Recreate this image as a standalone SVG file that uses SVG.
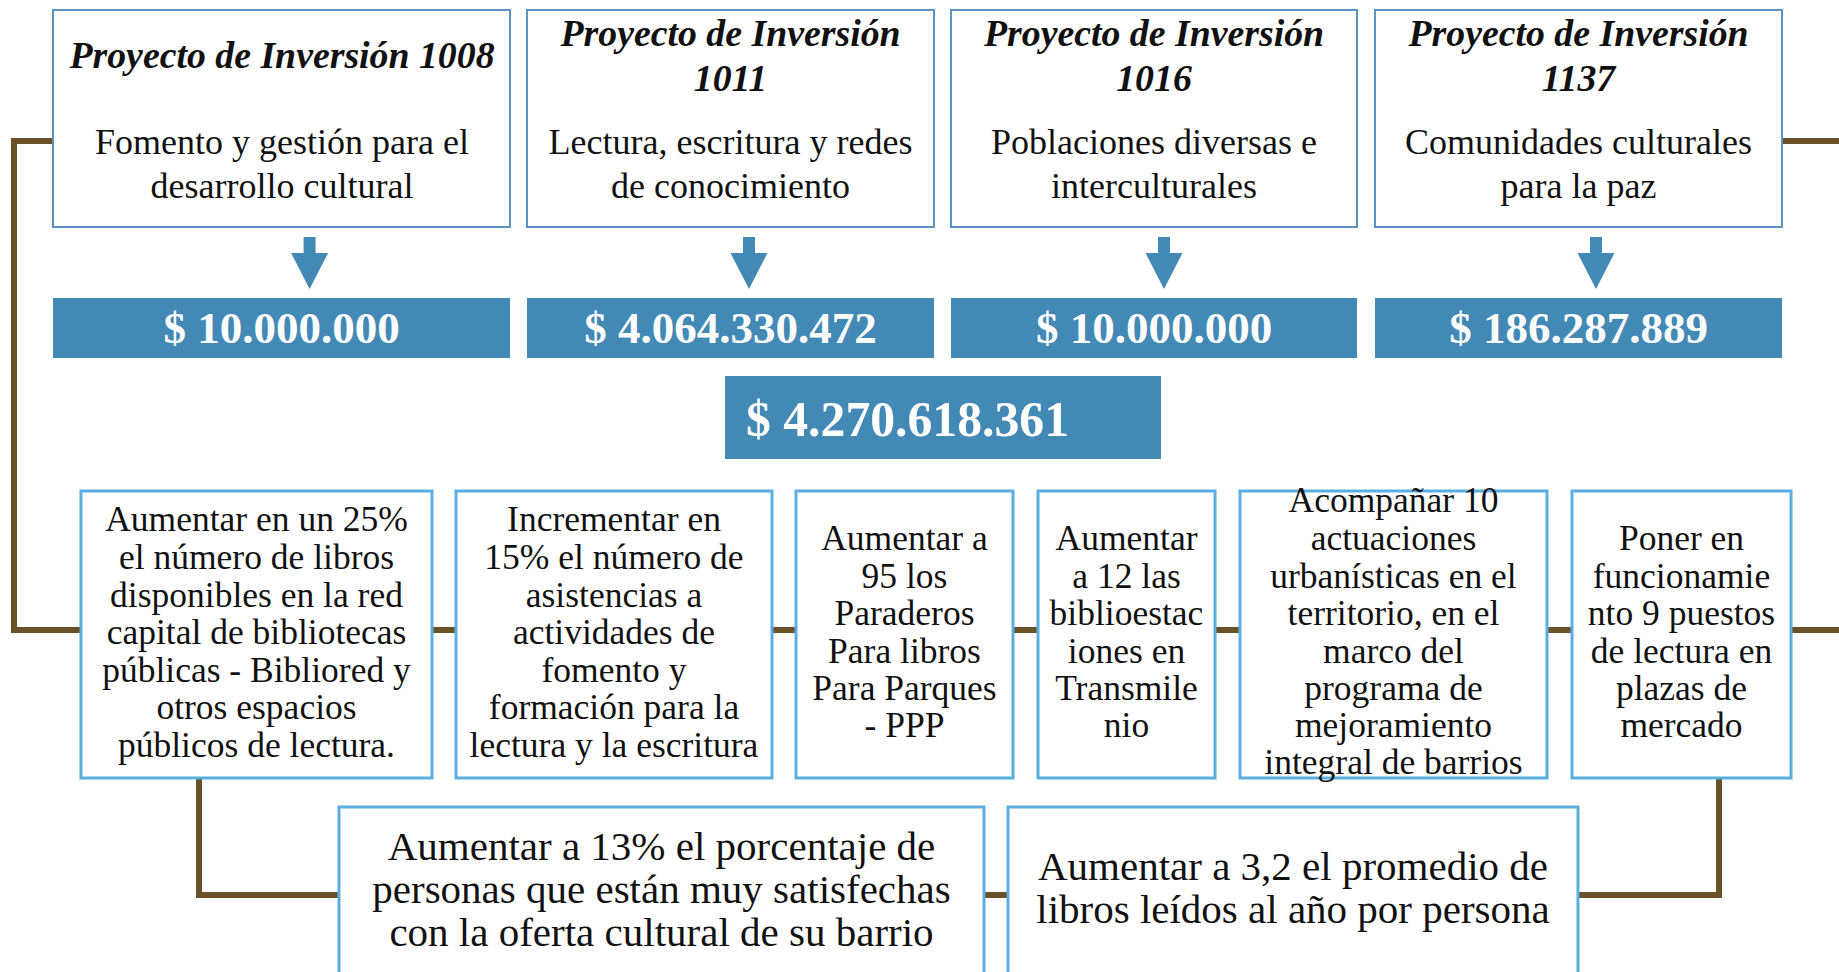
<svg xmlns="http://www.w3.org/2000/svg" xmlns:xlink="http://www.w3.org/1999/xlink" width="1839" height="972" viewBox="0 0 1839 972">
<style>
.proj{fill:#fff;stroke:#5A94C2;stroke-width:2}
.val{fill:#4389B5}
.goal{fill:#fff;stroke:#5AAEE0;stroke-width:3}
.conn{fill:none;stroke:#6B5128;stroke-width:6}
.t{font-family:"Liberation Serif","Times New Roman",serif;fill:#111;text-anchor:middle}
.ti{font-style:italic;font-weight:bold;font-size:37.8px}
.tb{font-size:36px}
.tv{font-family:"Liberation Serif","Times New Roman",serif;fill:#fff;font-weight:bold;font-size:45px;text-anchor:middle}
.tg{font-size:35.5px}
.tc{font-size:41px}
.arrow{fill:#4389B5}
</style>
<defs>
<path id="arr" d="M-6,237 H6 V253 H18.5 L0,289 L-18.5,253 H-6 Z"/>
</defs>
<rect width="1839" height="972" fill="#fff"/>
<g id="connectors">
<path class="conn" d="M53,141 H14 V630 H1845"/>
<path class="conn" d="M1782,141 H1845 V630"/>
<path class="conn" d="M199,778 V895 H1719 V778"/>
</g>
<g id="p1008">
<rect class="proj" x="53" y="10" width="457" height="217"/>
<text class="t ti" x="282" y="68">Proyecto de Inversión 1008</text>
<text class="t tb" x="282" y="154">Fomento y gestión para el</text>
<text class="t tb" x="282" y="198">desarrollo cultural</text>
</g>
<g id="p1011">
<rect class="proj" x="527" y="10" width="407" height="217"/>
<text class="t ti" x="730.5" y="46">Proyecto de Inversión</text>
<text class="t ti" x="730.5" y="91">1011</text>
<text class="t tb" x="730.5" y="154">Lectura, escritura y redes</text>
<text class="t tb" x="730.5" y="198">de conocimiento</text>
</g>
<g id="p1016">
<rect class="proj" x="951" y="10" width="406" height="217"/>
<text class="t ti" x="1154" y="46">Proyecto de Inversión</text>
<text class="t ti" x="1154" y="91">1016</text>
<text class="t tb" x="1154" y="154">Poblaciones diversas e</text>
<text class="t tb" x="1154" y="198">interculturales</text>
</g>
<g id="p1137">
<rect class="proj" x="1375" y="10" width="407" height="217"/>
<text class="t ti" x="1578.5" y="46">Proyecto de Inversión</text>
<text class="t ti" x="1578.5" y="91">1137</text>
<text class="t tb" x="1578.5" y="154">Comunidades culturales</text>
<text class="t tb" x="1578.5" y="198">para la paz</text>
</g>
<g id="arrows">
<use xlink:href="#arr" href="#arr" class="arrow" x="309.6" y="0"/>
<use xlink:href="#arr" href="#arr" class="arrow" x="749" y="0"/>
<use xlink:href="#arr" href="#arr" class="arrow" x="1164" y="0"/>
<use xlink:href="#arr" href="#arr" class="arrow" x="1596" y="0"/>
</g>
<g id="v1008">
<rect class="val" x="53" y="298" width="457" height="60"/>
<text class="tv" x="281.5" y="343">$ 10.000.000</text>
</g>
<g id="v1011">
<rect class="val" x="527" y="298" width="407" height="60"/>
<text class="tv" x="730.5" y="343">$ 4.064.330.472</text>
</g>
<g id="v1016">
<rect class="val" x="951" y="298" width="406" height="60"/>
<text class="tv" x="1154" y="343">$ 10.000.000</text>
</g>
<g id="v1137">
<rect class="val" x="1375" y="298" width="407" height="60"/>
<text class="tv" x="1578.5" y="343">$ 186.287.889</text>
</g>
<g id="total">
<rect class="val" x="725" y="376" width="436" height="83"/>
<text class="tv" x="746" y="436" style="font-size:49.7px;text-anchor:start">$ 4.270.618.361</text>
</g>
<g id="g1">
<rect class="goal" x="81" y="491" width="351" height="287"/>
<text class="t tg" x="256.5" y="531">Aumentar en un 25%</text>
<text class="t tg" x="256.5" y="569">el número de libros</text>
<text class="t tg" x="256.5" y="607">disponibles en la red</text>
<text class="t tg" x="256.5" y="644">capital de bibliotecas</text>
<text class="t tg" x="256.5" y="682">públicas - Bibliored y</text>
<text class="t tg" x="256.5" y="719">otros espacios</text>
<text class="t tg" x="256.5" y="757">públicos de lectura.</text>
</g>
<g id="g2">
<rect class="goal" x="456" y="491" width="316" height="287"/>
<text class="t tg" x="614" y="531">Incrementar en</text>
<text class="t tg" x="614" y="569">15% el número de</text>
<text class="t tg" x="614" y="607">asistencias a</text>
<text class="t tg" x="614" y="644">actividades de</text>
<text class="t tg" x="614" y="682">fomento y</text>
<text class="t tg" x="614" y="719">formación para la</text>
<text class="t tg" x="614" y="757">lectura y la escritura</text>
</g>
<g id="g3">
<rect class="goal" x="796" y="491" width="217" height="287"/>
<text class="t tg" x="904.5" y="550">Aumentar a</text>
<text class="t tg" x="904.5" y="588">95 los</text>
<text class="t tg" x="904.5" y="625">Paraderos</text>
<text class="t tg" x="904.5" y="663">Para libros</text>
<text class="t tg" x="904.5" y="700">Para Parques</text>
<text class="t tg" x="904.5" y="737">- PPP</text>
</g>
<g id="g4">
<rect class="goal" x="1038" y="491" width="177" height="287"/>
<text class="t tg" x="1126.5" y="550">Aumentar</text>
<text class="t tg" x="1126.5" y="588">a 12 las</text>
<text class="t tg" x="1126.5" y="625">biblioestac</text>
<text class="t tg" x="1126.5" y="663">iones en</text>
<text class="t tg" x="1126.5" y="700">Transmile</text>
<text class="t tg" x="1126.5" y="737">nio</text>
</g>
<g id="g5">
<rect class="goal" x="1240" y="491" width="307" height="287"/>
<text class="t tg" x="1393.5" y="512">Acompañar 10</text>
<text class="t tg" x="1393.5" y="550">actuaciones</text>
<text class="t tg" x="1393.5" y="588">urbanísticas en el</text>
<text class="t tg" x="1393.5" y="625">territorio, en el</text>
<text class="t tg" x="1393.5" y="663">marco del</text>
<text class="t tg" x="1393.5" y="700">programa de</text>
<text class="t tg" x="1393.5" y="737">mejoramiento</text>
<text class="t tg" x="1393.5" y="774">integral de barrios</text>
</g>
<g id="g6">
<rect class="goal" x="1572" y="491" width="219" height="287"/>
<text class="t tg" x="1681.5" y="550">Poner en</text>
<text class="t tg" x="1681.5" y="588">funcionamie</text>
<text class="t tg" x="1681.5" y="625">nto 9 puestos</text>
<text class="t tg" x="1681.5" y="663">de lectura en</text>
<text class="t tg" x="1681.5" y="700">plazas de</text>
<text class="t tg" x="1681.5" y="737">mercado</text>
</g>
<g id="c1">
<rect class="goal" x="339" y="807" width="645" height="190"/>
<text class="t tc" x="661.5" y="860">Aumentar a 13% el porcentaje de</text>
<text class="t tc" x="661.5" y="903">personas que están muy satisfechas</text>
<text class="t tc" x="661.5" y="946">con la oferta cultural de su barrio</text>
</g>
<g id="c2">
<rect class="goal" x="1008" y="807" width="570" height="190"/>
<text class="t tc" x="1293" y="880">Aumentar a 3,2 el promedio de</text>
<text class="t tc" x="1293" y="923">libros leídos al año por persona</text>
</g>
</svg>
